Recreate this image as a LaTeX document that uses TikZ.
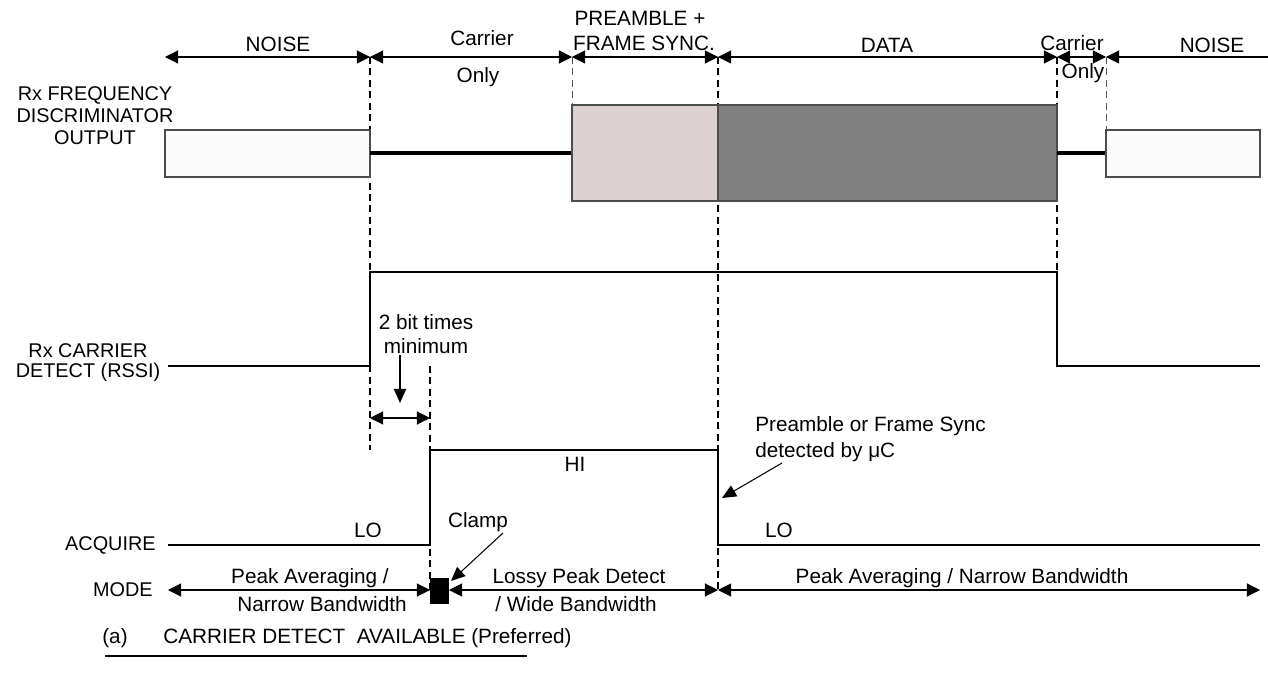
\documentclass[tikz,border=0pt]{standalone}
\usepackage{fontspec}
\setmainfont{Liberation Sans}
\usetikzlibrary{arrows.meta}

\begin{document}
\begin{tikzpicture}[
                x=0.02cm, y=-0.02cm,
                lbl/.style = {
                    font=\fontsize{11.8}{14.5}\selectfont,
                    inner sep = 0pt,
                    align = center
                },
                side/.style = {
                    font=\fontsize{11.3}{12.5}\selectfont,
                    inner sep = 0pt,
                    align = center
                },
                sig/.style = {line width = 1.1pt},
                carrier/.style = {line width = 2.3pt},
                guide/.style = {line width = 1.1pt, dash pattern = on 4pt off 2.5pt},
                thinguide/.style = {line width = 0.5pt, gray!70!black, dash pattern = on 4pt off 2.5pt},
                span/.style = {line width = 0.6pt, {Triangle[length=7.5pt,width=7.5pt]}-{Triangle[length=7.5pt,width=7.5pt]}},
                pointer/.style = {line width = 0.6pt, -{Triangle[length=8pt,width=7pt]}},
                noisebox/.style = {draw = gray!60!black, fill = gray!3, line width = 0.6pt}
            ]
            \useasboundingbox (0,0) rectangle (1268,689);
            % 
            % dashed guides
            \draw[guide] (370,57) -- (370,450);
            \draw[thinguide] (572,57) -- (572,105);
            \draw[guide] (718,57) -- (718,590);
            \draw[guide] (1057,57) -- (1057,272);
            \draw[thinguide] (1106,57) -- (1106,130);
            \draw[guide] (430,366) -- (430,590);
            % 
            % time spans on top
            \draw[span] (165,57) -- (370,57);
            \draw[span] (370,57) -- (572,57);
            \draw[span] (572,57) -- (718,57);
            \draw[span] (718,57) -- (1057,57);
            \draw[span] (1057,57) -- (1106,57);
            \draw[line width = 0.6pt, {Triangle[length=7.5pt,width=7.5pt]}-] (1106,57) -- (1268,57);
            % 
            \node[lbl] (noise1) at (278,44) {NOISE};
            \node[lbl] (carr1) at (482,38) {Carrier};
            \node[lbl] (only1) at (478,77) {Only};
            \node[lbl] (pre1) at (640,18) {PREAMBLE +};
            \node[lbl] (pre2) at (644,43) {FRAME SYNC.};
            \node[lbl] (data) at (887,45) {DATA};
            \node[lbl] (carr2) at (1072,43) {Carrier};
            \node[lbl] (only2) at (1083,73) {Only};
            \node[lbl] (noise2) at (1212,45) {NOISE};
            % 
            % discriminator output
            \node[side] (disc) at (95,116) {Rx FREQUENCY\\DISCRIMINATOR\\OUTPUT};
            \draw[noisebox] (165,130) rectangle (370,177);
            \draw[carrier] (370,153) -- (572,153);
            \draw[draw = gray!60!black, fill = {rgb,255:red,221;green,208;blue,208}, line width = 0.6pt] (572,105) rectangle (718,201);
            \draw[draw = gray!60!black, fill = gray, line width = 0.6pt] (718,105) rectangle (1057,201);
            \draw[carrier] (1057,153) -- (1106,153);
            \draw[noisebox] (1106,130) rectangle (1260,177);
            % 
            % carrier detect
            \node[side, font=\fontsize{11.3}{11.5}\selectfont] (rssi) at (88,363) {Rx CARRIER\\DETECT (RSSI)};
            \draw[sig] (168,366) -- (370,366) -- (370,272) -- (1057,272) -- (1057,366) -- (1260,366);
            % 
            \node[lbl] (bit1) at (426,322) {2 bit times};
            \node[lbl] (bit2) at (426,346) {minimum};
            \draw[pointer] (400,355) -- (400,403);
            \draw[span] (370,418) -- (430,418);
            % 
            % acquire
            \node[side, anchor=east] (acq) at (156,545) {ACQUIRE};
            \draw[sig] (168,545) -- (430,545) -- (430,450) -- (718,450) -- (718,545) -- (1260,545);
            \node[lbl] (hi) at (575,464) {HI};
            \node[lbl] (lo1) at (368,530) {LO};
            \node[lbl] (lo2) at (779,530) {LO};
            \node[lbl, anchor=west] (sync1) at (755,426) {Preamble or Frame Sync};
            \node[lbl, anchor=west] (sync2) at (755,452) {detected by μC};
            \draw[pointer] (782,463) -- (722,498);
            % 
            % mode
            \node[side, anchor=east] (mode) at (153,590) {MODE};
            \draw[span] (168,590) -- (430,590);
            \draw[span] (449,590) -- (718,590);
            \draw[span] (718,590) -- (1260,590);
            \fill (430,578) rectangle (449,604);
            \node[lbl] (clamp) at (478,522) {Clamp};
            \draw[pointer] (503,533) -- (451,581);
            \node[lbl] (pa1) at (310,578) {Peak Averaging /};
            \node[lbl] (pa2) at (322,604) {Narrow Bandwidth};
            \node[lbl] (lp1) at (579,578) {Lossy Peak Detect};
            \node[lbl] (lp2) at (576,604) {/ Wide Bandwidth};
            \node[lbl] (pa3) at (962,578) {Peak Averaging / Narrow Bandwidth};
            % 
            % caption
            \node[lbl] (cap1) at (115,638) {(a)};
            \node[lbl, anchor=west] (cap2) at (163,638) {CARRIER DETECT\ \ AVAILABLE (Preferred)};
            \draw[line width = 1.2pt] (105,656) -- (527,656);
            % 
        \end{tikzpicture}
\end{document}
